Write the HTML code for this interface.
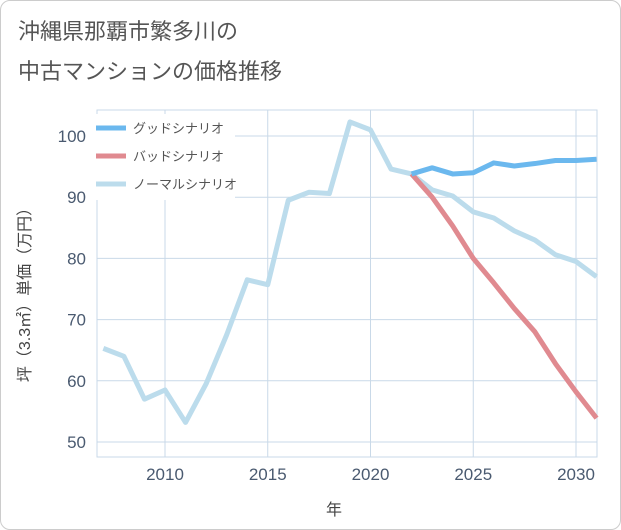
<!DOCTYPE html>
<html><head><meta charset="utf-8"><style>
body{margin:0;background:#fff;font-family:"Liberation Sans","Noto Sans CJK JP",sans-serif;}
#wrap{position:relative;width:619px;height:528px;border:1px solid #ccc;border-radius:10px;overflow:hidden;}
</style></head><body>
<div id="wrap">
<svg id="chart" width="619" height="528">
<text x="17" y="38" font-size="22" fill="#555">沖縄県那覇市繁多川の</text>
<text x="17" y="78" font-size="22" fill="#555">中古マンションの価格推移</text>
<g id="grid"></g><g id="axes"></g><g id="series"></g><g id="legend"></g>
<text transform="translate(29,290) rotate(-90)" text-anchor="middle" font-size="16" fill="#444">坪（3.3㎡）単価（万円）</text>
<text x="333" y="514" text-anchor="middle" font-size="16" fill="#444">年</text>
</svg></div>
<script>
const normalYears=[2007,2008,2009,2010,2011,2012,2013,2014,2015,2016,2017,2018,2019,2020,2021,2022,2023,2024,2025,2026,2027,2028,2029,2030,2031];
const normalValues=[65.3,64,57,58.5,53.2,59.5,67.5,76.5,75.7,89.5,90.8,90.6,102.3,101,94.6,93.8,91.2,90.2,87.6,86.6,84.5,83,80.6,79.5,77];
const futureYears=[2022,2023,2024,2025,2026,2027,2028,2029,2030,2031];
const goodValues=[93.8,94.8,93.8,94,95.6,95.1,95.5,96,96,96.2];
const badValues=[93.8,90,85.3,80,76,71.8,68,62.8,58.2,53.9];
const yTicks=[50,60,70,80,90,100];
const xTicks=[2010,2015,2020,2025,2030];
const X0=96,X1=596,Y0=109,Y1=456;
const x=v=>164+(v-2010)*20.55;
const y=v=>441-(v-50)*6.12;
const NS="http://www.w3.org/2000/svg";
function mk(tag,parent,attrs){const e=document.createElementNS(NS,tag);for(const k in attrs)e.setAttribute(k,attrs[k]);document.getElementById(parent).appendChild(e);return e;}
let r=mk('rect','grid',{x:X0,y:Y0,width:X1-X0,height:Y1-Y0,fill:'none',stroke:'#c9d9e8'});


xTicks.forEach(yr=>{let l=mk('line','grid',{x1:x(yr),x2:x(yr),y1:Y0,y2:Y1,stroke:'#c9d9e8'});

});
yTicks.forEach(v=>{let l=mk('line','grid',{x1:X0,x2:X1,y1:y(v),y2:y(v),stroke:'#c9d9e8'});

});
yTicks.forEach(v=>{let t=mk('text','axes',{x:85,y:y(v)+6,'text-anchor':'end','font-size':17,fill:'#4a5a70'});t.textContent=v;

});
xTicks.forEach(v=>{let t=mk('text','axes',{x:x(v),y:479,'text-anchor':'middle','font-size':17,fill:'#4a5a70'});t.textContent=v;

});
function line(xs,vs,color,name){let p=mk('polyline','series',{points:xs.map((a,i)=>x(a)+','+y(vs[i])).join(' '),fill:'none',stroke:color,'stroke-width':5,'stroke-linejoin':'round'});

}
line(normalYears,normalValues,'#bcdcec','normal-scenario-line');
line(futureYears,badValues,'#e08a90','bad-scenario-line');
line(futureYears,goodValues,'#6bb8ee','good-scenario-line');
let bg=mk('rect','legend',{x:88,y:113,width:146,height:86,fill:'#fff'});


[['グッドシナリオ','#6bb8ee'],['バッドシナリオ','#e08a90'],['ノーマルシナリオ','#bcdcec']].forEach((d,i)=>{
let yy=127+i*28;
let l=mk('line','legend',{x1:95,x2:125,y1:yy,y2:yy,stroke:d[1],'stroke-width':5});


let t=mk('text','legend',{x:132,y:yy+5,'font-size':13,fill:'#555'});t.textContent=d[0];

});
</script></body></html>
